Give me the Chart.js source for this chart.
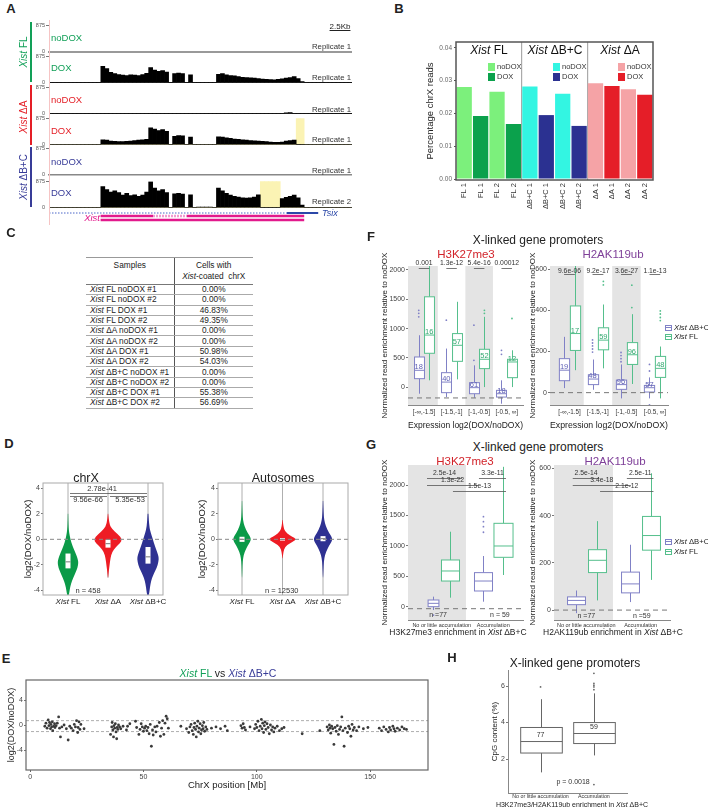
<!DOCTYPE html>
<html>
<head>
<meta charset="utf-8">
<script src="https://cdn.jsdelivr.net/npm/chart.js@4.4.1/dist/chart.umd.min.js"></script>
<style>
  html, body { margin: 0; padding: 0; background: #fff; }
  #fig { position: relative; width: 708px; height: 808px; overflow: hidden;
         font-family: "Liberation Sans", Arial, Helvetica, sans-serif; color: #222; }
  #fig canvas { position: absolute; }
  .t { position: absolute; white-space: nowrap; line-height: 1; }
  #tblC { position: absolute; left: 86px; top: 257px; width: 167px; border-collapse: collapse;
          font-size: 8.3px; color: #222; table-layout: fixed; }
  #tblC th { font-weight: normal; height: 24px; vertical-align: top; padding: 2px 0 0; line-height: 11px;
             border-top: 1px solid #999; border-bottom: 1px solid #777; }
  #tblC td { height: 9.3px; line-height: 9px; padding: 0; border-bottom: 1px solid #aaa; }
  #tblC td:first-child { padding-left: 4px; }
  #tblC td + td, #tblC th + th { border-left: 1px solid #555; text-align: center; }
</style>
</head>
<body>
<div id="fig"></div>
<script>
const FONT = '"Liberation Sans", Arial, Helvetica, sans-serif';

// --- A. coverage tracks (bins of ~0.45 kb, values start at bin 13) ---
const binLabels = Array.from({ length: 76 }, (_, i) => i);
const covStart = 13;
const covFlDox = [540,470,340,300,270,250,240,260,250,240,270,310,500,420,380,400,350, 0, 300,320,300, 0, 260, 0,0,0,0,0,0,
  280,300,260,240,230,200,180,170,160,150,140,120,110,100,95,110,130,150,170,200,140,40];
const covDaNoDox = [0,0,0,0,0,0,0,0,0,0, 0,0,0,0,0,0,0,0,0,0, 0,0,0,0,0,0,0,0,0,0, 0,0,0,0,0,0,0,0,0,0, 0,0,0,0,0,0, 30,40,0,0,0];
const covDaDox = [160,150,120,110,100,100,110,120,140,150,160,180,560,520,470,500,440, 0, 280,300,290, 0, 250, 0,0,0,0,0,0,
  260,250,230,210,190,180,160,150,140,130,120,110,100,90,80,80,90,120,140,150,0,0];
const covBcDox = [700,600,520,560,500,420,480,400,430,380,420,520,860,650,560,600,500, 0, 460,480,450, 0, 430, 0,20,20,20,20,0,
  650,560,480,420,380,350,330,320,330,350,430,0,0,0,0,0,300,340,380,420,330,90];
const hlDaDox = [62, 63];
const hlBcDox = [53, 54, 55, 56, 57];
const trackMax = 875;
const trackCondition = ['noDOX', 'DOX', 'noDOX', 'DOX', 'noDOX', 'DOX'];
const trackReplicate = ['Replicate 1', 'Replicate 1', 'Replicate 1', 'Replicate 1', 'Replicate 1', 'Replicate 2'];
// gene models, in bin units
const tsixDotted = [0, 59.5];
const tsixSolid = [59.5, 67.3];
const xistRow1 = [[12.9, 26, 'solid'], [26, 34.5, 'light'], [34.5, 63.8, 'solid']];
const xistRow2 = [12.9, 63.8];

// --- B. percentage chrX reads ---
const bLabels = ['FL 1','FL 1','FL 2','FL 2','ΔB+C 1','ΔB+C 1','ΔB+C 2','ΔB+C 2','ΔA 1','ΔA 1','ΔA 2','ΔA 2'];
const bValues = [0.0281,0.0192,0.0266,0.0168,0.0282,0.0195,0.0260,0.0162,0.0292,0.0284,0.0274,0.0257];
const bTicks = [0, 0.01, 0.02, 0.03, 0.04];
const bFacets = ['FL', 'ΔB+C', 'ΔA'];

// --- C. table ---
const tableSamples = ['FL noDOX #1','FL noDOX #2','FL DOX #1','FL DOX #2','ΔA noDOX #1','ΔA noDOX #2','ΔA DOX #1','ΔA DOX #2',
  'ΔB+C noDOX #1','ΔB+C noDOX #2','ΔB+C DOX #1','ΔB+C DOX #2'];
const tableCells = ['0.00%','0.00%','46.83%','49.35%','0.00%','0.00%','50.98%','54.03%','0.00%','0.00%','55.38%','56.69%'];

// --- D. violins: density outline (level, half width) + box [q1, median, q3] ---
const dGroups = ['FL', 'ΔA', 'ΔB+C'];
const dTicks = [-4, -2, 0, 2, 4];
const vChrXFlY = [2, 1, 0.5, 0, -0.5, -1, -1.5, -1.8, -2.2, -2.6, -3, -3.5, -4, -4.4];
const vChrXFlW = [0.005,0.012,0.03,0.06,0.11,0.18,0.24,0.26,0.24,0.19,0.13,0.07,0.04,0.02];
const vChrXDaY = [2, 1.2, 0.8, 0.4, 0, -0.3, -0.6, -1, -1.5, -2, -2.5, -3];
const vChrXDaW = [0.005,0.03,0.1,0.25,0.36,0.3,0.2,0.1,0.06,0.04,0.02,0.005];
const vChrXBcY = [2, 1, 0.5, 0, -0.5, -1, -1.4, -1.8, -2.2, -2.6, -3, -3.5, -4, -4.4];
const vChrXBcW = [0.01,0.03,0.07,0.12,0.17,0.23,0.27,0.26,0.22,0.16,0.1,0.06,0.04,0.02];
const vAutoY = [3, 2, 1.5, 1, 0.5, 0.2, 0, -0.2, -0.5, -1, -1.5, -2, -3];
const vAutoFlW = [0.004,0.012,0.025,0.06,0.14,0.2,0.22,0.2,0.14,0.06,0.025,0.012,0.004];
const vAutoDaY = [1.5, 1, 0.6, 0.3, 0.1, 0, -0.1, -0.3, -0.6, -1, -1.5];
const vAutoDaW = [0.005,0.02,0.06,0.18,0.3,0.33,0.3,0.18,0.06,0.02,0.005];
const vAutoBcW = [0.005,0.015,0.03,0.07,0.15,0.21,0.23,0.21,0.15,0.07,0.03,0.015,0.005];
const chrXBoxes = [[-2.27, -1.76, -1.11], [-0.65, -0.34, -0.03], [-1.9, -1.37, -0.6]];
const autoBoxes = [[-0.2, 0, 0.2], [-0.1, 0, 0.1], [-0.15, 0.05, 0.25]];
const chrXTails = [[-4.4, 4.4], [-3, 4.4], [-4.4, 4.4]];
const autoTails = [[-4.4, 4.4], [-4.4, 4.4], [-4.4, 4.4]];
const chrXSigText = ['2.78e-41', '9.56e-66', '5.35e-53'];
const chrXSigX1 = [1.05, 1.05, 2.05];
const chrXSigX2 = [2.975, 1.975, 2.975];
const chrXSigY = [3.64, 3.41, 3.41];
const chrXSigTextX = [1.85, 1.5, 2.55];
const chrXSigTextY = [3.95, 3.1, 3.1];

// --- E. log2 ratio along chrX: [position Mb, log2(DOX/noDOX)] ---
const ePoints = [
  [6.5,-0.2],[7,0.3],[7.5,-0.5],[8,0.8],[8.3,-0.1],[8.6,0.4],[9,-0.6],[9.2,0.1],[9.5,-0.3],[9.8,0.5],[10,-0.9],[10.4,-0.2],
  [10.8,0.2],[11,-0.4],[11.5,-0.1],[12,0.3],[12.6,1.3],[13,-0.5],[13.4,-1.9],[14,-0.3],[15,0],[16,-0.6],[16.8,-2.4],[17.5,-0.2],
  [18.2,-0.5],[19,-0.9],[19.5,0.1],[20,-0.3],[20.5,0.7],[21,-1.2],[21.2,-0.4],[21.6,0.5],[22,-0.7],[22.4,0.1],[23.8,-0.6],
  [35.5,-1.5],[36,-0.3],[36.2,0.4],[36.5,-0.8],[36.8,-1.9],[37,-0.1],[37.3,-0.5],[37.6,0.2],[37.9,-1.1],[38.2,-2.2],[38.4,-0.4],
  [38.7,-0.7],[39,0],[39.5,-0.3],[40,-0.6],[41,-0.2],[42.5,-0.8],[43,-0.2],
  [44,0.2],[46.5,0.6],[47,-0.4],[48,-1.5],[48.5,-0.7],[49,0.2],[49.5,-0.3],[50,-1],[50.5,-0.5],[51,-0.2],[51.5,-0.9],[52,-0.4],
  [52.5,-1.4],[53,0.1],[53.5,-3.4],[54,-0.8],[54.3,-1.6],[55,-0.3],[55.5,-1.1],[56,-0.2],[57,0.4],[57.5,-1.8],[58,-0.5],[58.5,0.7],
  [59,-1.5],[59.5,0.3],[60,1.4],[60.5,1.0],[61,-0.5],
  [66.5,-0.2],[69,-0.6],[70,-1.2],[70.5,-0.3],[71,0.1],[71.5,-0.9],[72,-1.5],[72.3,-0.4],[72.6,0.3],[73,-0.7],[73.3,-1.9],[73.6,-0.2],
  [74,0.6],[74.3,-1.1],[74.6,-0.5],[75,0.2],[75.3,-1.4],[75.6,-0.8],[76,-0.1],[76.3,-0.6],[76.6,0.4],[77,-1],[77.5,-0.3],[78,-0.7],
  [80,-0.5],[82,-0.3],[84,-0.6],[86,-0.2],[87,-0.9],
  [93,-0.1],[93.5,-0.5],[94,0.2],[94.5,-0.4],[95,-0.8],[97,-0.3],[99,-0.6],[99.5,0.1],[100,-0.4],[100.5,0.6],[101,-0.9],[101.5,-0.2],
  [102,0.9],[102.3,-0.6],[102.6,0.3],[103,-1.2],[103.3,-0.1],[103.6,0.5],[104,-0.7],[104.5,0.2],[105,-0.4],[105.5,-1.4],[106,0],
  [106.5,-0.8],[107,-0.3],[107.5,-1.1],[108,-0.5],[109,-0.2],[110,-0.9],[111,-0.6],[112,-0.4],
  [120,-1.4],[127.8,-0.9],
  [131,-0.3],[131.5,-0.8],[132,0],[132.3,-0.5],[132.6,-1.3],[133,-0.2],[133.5,-0.6],[134,-3.1],[134.5,-0.4],[135,-1.0],[135.5,-0.1],
  [136,-1.5],[136.5,-0.7],[137,-0.3],[137.5,1.3],[138,-0.9],[138.5,-3.4],[139,-0.5],[140,-1.2],[140.5,-0.2],[141,-0.6],[141.5,-1.8],
  [142,0.1],[142.5,-0.8],[143,-0.4],[144,-0.9],[145,-0.3],[147,-0.6],[149,-0.4],
  [154,-0.5],[155,-0.9],[156,-0.3],[157,-0.7],[158,-1.1],[158.5,-0.4],[159,-0.8],[160,-0.2],[160.5,-0.6],[161,-1.0],[162,-0.5],
  [163,-0.8],[164,-0.3],[165,-0.6],[166,-0.7]
];
const eRefLines = [0.7, -1.05];
const eXTicks = [0, 50, 100, 150];
const eYTicks = [-4, 0, 4];

// --- F. boxes by expression bin: [low whisker, q1, median, q3, high whisker] ---
const fBins = ['[-∞,-1.5]', '[-1.5,-1]', '[-1,-0.5]', '[-0.5, ∞]'];
const fK27Bc = [[-108,148,290,517,887],[-165,-90,90,250,660],[-176,-108,-5,80,375],[-278,-165,-108,-51,120]];
const fK27Fl = [[120,580,890,1541,2200],[136,443,716,915,1456],[5,319,478,648,1200],[5,165,432,478,631]];
const fK27BcOut = [[1310,1260,1200],[1143],[1058,460],[631,563]];
const fK27FlOut = [[],[],[1310,1260],[1172]];
const fK27BcN = ['18','40','61','18'];
const fK27FlN = ['16','57','52','12'];
const fK27P = ['0.001','1.3e-12','5.4e-16','0.00012'];
const fK27Ref = -180;
const fK119Bc = [[22,58,109,165,271],[14,39,66,87,161],[-28,16,39,61,137],[-28,3,24,35,74]];
const fK119Fl = [[109,205,287,421,640],[118,208,255,315,428],[42,137,184,243,381],[-28,74,118,176,224]];
const fK119BcOut = [[],[197,212,227,241,256],[150,165,180,195],[137,105,-60]];
const fK119FlOut = [[],[523,540],[522,413],[350,365,382,397]];
const fK119BcN = ['19','48','96','57'];
const fK119FlN = ['17','59','96','48'];
const fK119P = ['9.6e-06','9.2e-17','3.6e-27','1.1e-13'];
const fK119Ref = 0;

// --- G. boxes by accumulation class (order: ΔB+C no/little, FL no/little, ΔB+C acc, FL acc) ---
const gClasses = ['No or little accumulation', 'Accumulation'];
const gK27Stats = [[-55,0,55,110,165],[148,422,587,768,1233],[82,258,422,560,833],[521,812,998,1371,2300]];
const gK27Out = [[-138],[],[1480,1398,1316,1224],[]];
const gK27Pos = [0.84, 1.16, 1.81, 2.18];
const gK27Width = [0.21, 0.35, 0.35, 0.37];
const gK27SigText = ['2.5e-14','3.3e-11','1.3e-22','1.5e-13'];
const gK27SigX1 = [0.714, 1.723, 0.714, 1.218];
const gK27SigX2 = [1.393, 2.248, 1.704, 2.248];
const gK27SigY = [2117, 2117, 2002, 1903];
const gK27N = ['n =77', 'n = 59'];
const gK27NX = [0.93, 2.13];
const gK27NY = -138;
const gK27Ref = -33;
const gK119Stats = [[-13,23,41,56,83],[41,159,211,256,377],[34,73,111,161,277],[128,254,316,397,580]];
const gK119Pos = [0.81, 1.19, 1.81, 2.19];
const gK119Width = [0.33, 0.33, 0.33, 0.33];
const gK119SigText = ['2.5e-14','2.5e-11','3.4e-18','2.1e-12'];
const gK119SigX1 = [0.75, 1.746, 0.75, 1.253];
const gK119SigX2 = [1.24, 2.236, 1.82, 2.236];
const gK119SigY = [560, 560, 530, 504];
const gK119N = ['n =77', 'n =59'];
const gK119NX = [1.0, 2.02];
const gK119NY = -27;
const gK119Ref = 0;

// --- H. CpG content ---
const hStats = [[1.27,2.33,2.96,3.73,5.28],[2.2,2.85,3.4,4.0,5.6]];
const hOut = [[5.95],[5.8,5.95,6.05,6.15,6.7,0.6]];
const hN = ['77', '59'];
const hP = 'p = 0.0018';

// ------------------------------------------------------------------
Chart.defaults.font.family = FONT;
Chart.defaults.font.size = 7;
Chart.defaults.color = '#444';
Chart.defaults.animation = false;
Chart.defaults.events = [];
Chart.defaults.plugins.legend.display = false;
Chart.defaults.plugins.tooltip.enabled = false;

const GREEN = '#12a058', RED = '#e41e26', NAVY = '#383c98';
const BC = '#8081c6', FL = '#55bf8c';
const fig = document.getElementById('fig');

function canvasAt(plot, axL, axB, padT, padR) {
  const c = document.createElement('canvas');
  const w = axL + plot[2] - plot[0] + padR, h = padT + plot[3] - plot[1] + axB;
  c.width = w; c.height = h;
  c.style.left = (plot[0] - axL) + 'px';
  c.style.top = (plot[1] - padT) + 'px';
  c.style.width = w + 'px'; c.style.height = h + 'px';
  fig.appendChild(c);
  return c;
}

function base(padT, padR) {
  return { responsive: false, maintainAspectRatio: false, animation: false,
    layout: { padding: { top: padT, right: padR, left: 0, bottom: 0 } } };
}

function txt(html, x, y, o = {}) {
  const d = document.createElement('div');
  d.className = 't';
  d.innerHTML = html;
  d.style.left = x + 'px';
  d.style.top = y + 'px';
  d.style.fontSize = (o.size || 9) + 'px';
  if (o.color) d.style.color = o.color;
  if (o.bold) d.style.fontWeight = 'bold';
  const ax = o.anchor === 'l' ? '0' : o.anchor === 'r' ? '-100%' : '-50%';
  d.style.transform = `translate(${ax},-50%)` + (o.rot ? ` rotate(${o.rot}deg)` : '');
  if (o.css) d.style.cssText += o.css;
  fig.appendChild(d);
  return d;
}

function richText(ctx, parts, x, y, size, color) {
  const fonts = parts.map(p => (p.i ? 'italic ' : '') + size + 'px ' + FONT);
  const ws = parts.map((p, k) => { ctx.font = fonts[k]; return ctx.measureText(p.t).width; });
  let cx = x - ws.reduce((a, b) => a + b, 0) / 2;
  ctx.textAlign = 'left'; ctx.textBaseline = 'middle';
  parts.forEach((p, k) => { ctx.font = fonts[k]; ctx.fillStyle = color; ctx.fillText(p.t, cx, y); cx += ws[k]; });
}

const frame = (color, w) => ({ id: 'frame', afterDatasetsDraw(chart) {
  const { ctx, chartArea: a } = chart;
  ctx.save(); ctx.strokeStyle = color; ctx.lineWidth = w;
  ctx.strokeRect(a.left, a.top, a.right - a.left, a.bottom - a.top);
  ctx.restore();
}});

function annot(cfg) {
  return { id: 'annot', afterDraw(chart) {
    const { ctx, scales: { x, y } } = chart;
    ctx.save();
    (cfg.lines || []).forEach(l => {
      ctx.strokeStyle = l.color || '#444'; ctx.lineWidth = 0.8;
      const py = Math.round(y.getPixelForValue(l.y)) + 0.5;
      ctx.beginPath(); ctx.moveTo(x.getPixelForValue(l.x1), py); ctx.lineTo(x.getPixelForValue(l.x2), py); ctx.stroke();
    });
    (cfg.texts || []).forEach(t => {
      ctx.font = `${t.size || 7}px ${FONT}`; ctx.fillStyle = t.color || '#333';
      ctx.textAlign = 'center'; ctx.textBaseline = 'middle';
      ctx.fillText(t.t, x.getPixelForValue(t.x), y.getPixelForValue(t.y));
    });
    ctx.restore();
  }};
}

function statBoxes(cfg) {
  return { id: 'statBoxes',
    beforeDatasetsDraw(chart) {
      const { ctx, chartArea: a, scales: { x, y } } = chart;
      ctx.save();
      ctx.beginPath(); ctx.rect(a.left, a.top, a.right - a.left, a.bottom - a.top); ctx.clip();
      (cfg.bands || []).forEach(b => {
        const l = Math.max(a.left, x.getPixelForValue(b[0])), r = Math.min(a.right, x.getPixelForValue(b[1]));
        ctx.fillStyle = '#e4e4e4'; ctx.fillRect(l, a.top, r - l, a.bottom - a.top);
      });
      cfg.boxes.forEach(bx => {
        const cx = Math.round(x.getPixelForValue(bx.x)) + 0.5;
        const hw = (x.getPixelForValue(bx.x + bx.w / 2) - x.getPixelForValue(bx.x - bx.w / 2)) / 2;
        const [lo, q1, md, q3, hi] = bx.s.map(v => y.getPixelForValue(v));
        ctx.strokeStyle = bx.color; ctx.lineWidth = 1;
        ctx.beginPath(); ctx.moveTo(cx, hi); ctx.lineTo(cx, q3); ctx.moveTo(cx, q1); ctx.lineTo(cx, lo); ctx.stroke();
        ctx.fillStyle = '#fff'; ctx.fillRect(cx - hw, q3, 2 * hw, q1 - q3);
        ctx.strokeRect(cx - hw, q3, 2 * hw, q1 - q3);
        ctx.beginPath(); ctx.moveTo(cx - hw, md); ctx.lineTo(cx + hw, md); ctx.stroke();
      });
      ctx.restore();
    },
    afterDatasetsDraw(chart) {
      const { ctx, scales: { x, y } } = chart;
      ctx.save();
      cfg.boxes.forEach(bx => {
        if (!bx.label) return;
        ctx.font = `${cfg.labelSize || 7.5}px ${FONT}`; ctx.fillStyle = bx.labelColor || bx.color;
        ctx.textAlign = 'center'; ctx.textBaseline = 'middle';
        ctx.fillText(bx.label, x.getPixelForValue(bx.x), y.getPixelForValue(bx.s[2]) - (cfg.labelLift || 4));
      });
      ctx.restore();
    }
  };
}

function xGroupAxis(axB, ticksAt, labels, size, title, pad) {
  return { type: 'linear', afterFit: s => { s.height = axB; },
    afterBuildTicks: s => { s.ticks = ticksAt.map(v => ({ value: v })); },
    grid: { display: true, drawOnChartArea: false, drawTicks: false },
    border: { display: true, color: '#888' },
    ticks: { autoSkip: false, maxRotation: 0, font: { size }, color: '#333', padding: pad === undefined ? 3 : pad,
             callback: (v, i) => labels[i] },
    title: title ? { display: true, text: title, font: { size: 8.8 }, color: '#222', padding: { top: 0, bottom: 1 } } : { display: false } };
}

function yValueAxis(axL, ticksAt, title, titlePad, size) {
  return { type: 'linear', afterFit: s => { s.width = axL; },
    afterBuildTicks: s => { s.ticks = ticksAt.map(v => ({ value: v })); },
    grid: { display: true, drawOnChartArea: false, drawTicks: true, tickLength: 2, color: '#777' },
    border: { display: true, color: '#888' },
    ticks: { font: { size: 7 }, color: '#444', padding: 1, callback: v => String(v) },
    title: { display: true, text: title, font: { size: size || 8 }, color: '#222', padding: { top: titlePad, bottom: 0 } } };
}

// ---------------- Panel A ----------------
const trackCov = [[], covFlDox, covDaNoDox, covDaDox, [], covBcDox];
const trackHl = [[], [], [], hlDaDox, [], hlBcDox];
const trackTop = [25, 56, 87, 118, 148, 181];
const trackBase = [52, 83, 114, 145, 175, 208];
const trackColor = [GREEN, GREEN, RED, RED, NAVY, NAVY];
const trackLine = ['#999', '#333', '#333', '#333', '#888', '#333'];
const trackLineW = [2, 1, 1, 1, 1.5, 1];
trackCov.forEach((cov, k) => {
  const cv = canvasAt([49, trackTop[k], 352, trackBase[k]], 21, 4, 4, 0);
  const datasets = [];
  if (trackHl[k].length) datasets.push({ data: binLabels.map(i => trackHl[k].includes(i) ? trackMax : 0),
    backgroundColor: '#fbf3b4', grouped: false, order: 2, barPercentage: 1, categoryPercentage: 1 });
  if (cov.length) datasets.push({ data: binLabels.map(i => (i >= covStart && i < covStart + cov.length) ? cov[i - covStart] : 0),
    backgroundColor: '#000', grouped: false, order: 1, barPercentage: 1, categoryPercentage: 1 });
  new Chart(cv, { type: 'bar', data: { labels: binLabels, datasets },
    options: Object.assign(base(4, 0), { scales: {
      x: { afterFit: s => { s.height = 4; }, grid: { display: false }, ticks: { display: false },
           border: { display: true, color: trackLine[k], width: trackLineW[k] } },
      y: { min: 0, max: trackMax, afterFit: s => { s.width = 21; },
           afterBuildTicks: s => { s.ticks = [{ value: 0 }, { value: trackMax }]; },
           grid: { display: true, drawOnChartArea: false, drawTicks: true, tickLength: 3,
                   color: c => (c.tick && c.tick.value === trackMax) ? '#777' : 'rgba(0,0,0,0)' },
           border: { display: false }, ticks: { font: { size: 5.5 }, color: '#555', padding: 1 } } } }) });
  txt(trackCondition[k], 51, [38, 68, 100, 131, 162, 193][k], { anchor: 'l', size: 9.5, color: trackColor[k] });
  txt(trackReplicate[k], 351, [47, 78, 110, 140, 171, 202][k], { anchor: 'r', size: 7.8, color: '#333' });
});

// gene models
(function () {
  const cv = canvasAt([49, 209, 352, 223], 0, 0, 0, 0);
  const seg = (span, y, color, w, dash) => ({ type: 'line', data: [{ x: span[0], y }, { x: span[1], y }],
    borderColor: color, borderWidth: w, borderDash: dash || [], pointRadius: 0 });
  const datasets = [seg(tsixDotted, 4, '#4a66c8', 1, [1.5, 1.5]), seg(tsixSolid, 4, '#2b48a8', 2)];
  xistRow1.forEach(r => datasets.push(seg([r[0], r[1]], 7, r[2] === 'solid' ? '#e2198c' : '#f29bcf', 2.4, r[2] === 'solid' ? [] : [2, 1])));
  datasets.push(seg(xistRow2, 11, '#e2198c', 2.4));
  new Chart(cv, { type: 'scatter', data: { datasets },
    options: Object.assign(base(0, 0), { scales: {
      x: { type: 'linear', min: 0, max: 75.75, display: false },
      y: { min: 0, max: 14, reverse: true, display: false } } }) });
})();

txt('A', 11, 8, { size: 13, bold: true });
txt('2.5Kb', 340, 27, { size: 8, css: 'text-decoration: underline;' });
[[22, 82, GREEN, '<i>Xist</i> FL', 52], [85, 145, RED, '<i>Xist</i> ΔA', 117], [147, 207, NAVY, '<i>Xist</i> ΔB+C', 177]].forEach(b => {
  const d = document.createElement('div');
  d.style.cssText = `position:absolute;left:30px;top:${b[0]}px;width:2px;height:${b[1] - b[0]}px;background:${b[2]};`;
  fig.appendChild(d);
  txt(b[3], 24, b[4], { size: 10, color: b[2], rot: -90 });
});
(function () {
  const d = document.createElement('div');
  d.style.cssText = 'position:absolute;left:49px;top:20px;width:1px;height:205px;background:#f6c4c4;';
  fig.appendChild(d);
})();
txt('Tsix', 322, 213, { anchor: 'l', size: 9, color: '#2b48a8', css: 'font-style:italic;' });
txt('Xist', 100, 218, { anchor: 'r', size: 9.5, color: '#e2198c', css: 'font-style:italic;' });

// ---------------- Panel B ----------------
(function () {
  const bColors = ['#7cf07c','#0ba14c','#7cf07c','#0ba14c','#33f5e2','#2b3191','#33f5e2','#2b3191','#f5a3a6','#e51e28','#f5a3a6','#e51e28'];
  const cv = canvasAt([456, 42, 653, 180], 36, 30, 6, 8);
  new Chart(cv, { type: 'bar',
    data: { labels: bLabels, datasets: [{ data: bValues, backgroundColor: bColors, barPercentage: 0.93, categoryPercentage: 1, borderWidth: 0 }] },
    options: Object.assign(base(6, 8), { scales: {
      x: { afterFit: s => { s.height = 30; },
           grid: { offset: true, drawTicks: false, lineWidth: 1.2, color: c => (c.index === 4 || c.index === 8) ? '#aaa' : 'rgba(0,0,0,0)' },
           border: { display: false },
           ticks: { minRotation: 90, maxRotation: 90, autoSkip: false, font: { size: 7.5 }, color: '#333', padding: 3 } },
      y: { min: -0.0003, max: 0.0418, afterFit: s => { s.width = 36; },
           afterBuildTicks: s => { s.ticks = bTicks.map(v => ({ value: v })); },
           grid: { drawOnChartArea: false, drawTicks: true, tickLength: 2, color: '#555' }, border: { display: false },
           ticks: { callback: v => v.toFixed(2), font: { size: 6.5 }, color: '#666', padding: 2 },
           title: { display: true, text: 'Percentage chrX reads', font: { size: 9.5 }, color: '#222', padding: { top: 5, bottom: 0 } } } } }),
    plugins: [frame('#555', 1.5)] });
  txt('B', 399, 8, { size: 13, bold: true });
  const facetX = [489, 555, 620], legX = [488, 553, 618];
  bFacets.forEach((f, i) => {
    txt('<i>Xist</i> ' + f, facetX[i], 50, { size: 12, color: '#111' });
    [[bColors[i * 4], 'noDOX', 67], [bColors[i * 4 + 1], 'DOX', 77]].forEach(l => {
      const d = document.createElement('div');
      d.style.cssText = `position:absolute;left:${legX[i]}px;top:${l[2] - 4}px;width:7px;height:8px;background:${l[0]};`;
      fig.appendChild(d);
      txt(l[1], legX[i] + 9, l[2], { anchor: 'l', size: 7.5, color: '#333' });
    });
  });
})();

// ---------------- Panel C ----------------
(function () {
  let h = '<table id="tblC"><colgroup><col style="width:88px"><col style="width:79px"></colgroup>';
  h += '<thead><tr><th>Samples</th><th>Cells with<br><i>Xist</i>-coated&nbsp; chrX</th></tr></thead><tbody>';
  tableSamples.forEach((s, i) => { h += `<tr><td><i>Xist</i> ${s}</td><td>${tableCells[i]}</td></tr>`; });
  h += '</tbody></table>';
  fig.insertAdjacentHTML('beforeend', h);
  txt('C', 11, 232, { size: 13, bold: true });
})();

// ---------------- Panel D ----------------
function violinPlugin(groups) {
  return { id: 'violins', beforeDatasetsDraw(chart) {
    const { ctx, chartArea: a, scales: { x, y } } = chart;
    ctx.save();
    ctx.beginPath(); ctx.rect(a.left, a.top, a.right - a.left, a.bottom - a.top); ctx.clip();
    groups.forEach(g => {
      const cx = x.getPixelForValue(g.x);
      ctx.strokeStyle = '#9a9a9a'; ctx.lineWidth = 0.8;
      ctx.beginPath(); ctx.moveTo(cx, y.getPixelForValue(g.tail[1])); ctx.lineTo(cx, y.getPixelForValue(g.tail[0])); ctx.stroke();
      const pts = [];
      g.levels.forEach((lv, i) => pts.push([x.getPixelForValue(g.x + g.w[i]), y.getPixelForValue(lv)]));
      for (let i = g.levels.length - 1; i >= 0; i--) pts.push([x.getPixelForValue(g.x - g.w[i]), y.getPixelForValue(g.levels[i])]);
      ctx.fillStyle = g.color;
      ctx.beginPath(); ctx.moveTo(pts[0][0], pts[0][1]);
      for (let i = 1; i < pts.length - 1; i++) {
        const mx = (pts[i][0] + pts[i + 1][0]) / 2, my = (pts[i][1] + pts[i + 1][1]) / 2;
        ctx.quadraticCurveTo(pts[i][0], pts[i][1], mx, my);
      }
      ctx.lineTo(pts[pts.length - 1][0], pts[pts.length - 1][1]);
      ctx.closePath(); ctx.fill();
      const [q1, md, q3] = g.box.map(b => y.getPixelForValue(b));
      ctx.fillStyle = '#fff'; ctx.fillRect(cx - 2.5, q3, 5, q1 - q3);
      ctx.strokeStyle = '#777'; ctx.lineWidth = 1;
      ctx.beginPath(); ctx.moveTo(cx - 2.5, md); ctx.lineTo(cx + 2.5, md); ctx.stroke();
    });
    ctx.restore();
  },
  afterDraw(chart) {
    const { ctx, chartArea: a, scales: { x } } = chart;
    ctx.save();
    dGroups.forEach((gname, i) => richText(ctx, [{ t: 'Xist', i: true }, { t: ' ' + gname }], x.getPixelForValue(i + 1), a.bottom + 7, 8, '#222'));
    ctx.restore();
  }};
}

function violinChart(plot, xr, groups, ann, titlePad) {
  const cv = canvasAt(plot, 21, 14, 6, 6);
  new Chart(cv, { type: 'scatter',
    data: { datasets: [{ type: 'line', data: [{ x: xr[0], y: 0 }, { x: xr[1], y: 0 }], borderColor: '#888', borderWidth: 1, borderDash: [4, 3], pointRadius: 0 }] },
    options: Object.assign(base(6, 6), { scales: {
      x: { type: 'linear', min: xr[0], max: xr[1], afterFit: s => { s.height = 14; },
           grid: { display: false }, ticks: { display: false }, border: { display: false } },
      y: Object.assign(yValueAxis(21, dTicks, 'log2(DOX/noDOX)', titlePad, 9.5), { min: -4.35, max: 4.4, border: { display: false } }) } }),
    plugins: [violinPlugin(groups), frame('#aaa', 1), annot(ann)] });
}

const dColors = ['#0b9a48', '#ee1c24', '#2e3192'];
violinChart([43, 483, 163, 595], [0.375, 3.375], [
  { x: 1, levels: vChrXFlY, w: vChrXFlW, box: chrXBoxes[0], tail: chrXTails[0], color: dColors[0] },
  { x: 2, levels: vChrXDaY, w: vChrXDaW, box: chrXBoxes[1], tail: chrXTails[1], color: dColors[1] },
  { x: 3, levels: vChrXBcY, w: vChrXBcW, box: chrXBoxes[2], tail: chrXTails[2], color: dColors[2] }],
  { lines: chrXSigText.map((t, i) => ({ x1: chrXSigX1[i], x2: chrXSigX2[i], y: chrXSigY[i], color: '#555' })),
    texts: chrXSigText.map((t, i) => ({ t, x: chrXSigTextX[i], y: chrXSigTextY[i], size: 7.5, color: '#333' }))
      .concat([{ t: 'n = 458', x: 1.5, y: -4.03, size: 7.5, color: '#333' }]) }, 1);
violinChart([218, 483, 348, 595], [0.407, 3.617], [
  { x: 1, levels: vAutoY, w: vAutoFlW, box: autoBoxes[0], tail: autoTails[0], color: dColors[0] },
  { x: 2, levels: vAutoDaY, w: vAutoDaW, box: autoBoxes[1], tail: autoTails[1], color: dColors[1] },
  { x: 3, levels: vAutoY, w: vAutoBcW, box: autoBoxes[2], tail: autoTails[2], color: dColors[2] }],
  { texts: [{ t: 'n = 12530', x: 1.98, y: -4.03, size: 7.5, color: '#333' }] }, 0);
txt('D', 9, 443, { size: 13, bold: true });
txt('chrX', 86, 478, { size: 12.5 });
txt('Autosomes', 283, 478, { size: 12.5 });

// ---------------- Panel E ----------------
(function () {
  const cv = canvasAt([26, 680, 428, 770], 24, 22, 6, 8);
  const datasets = [{ data: ePoints.map(p => ({ x: p[0], y: p[1] })), pointRadius: 1.4, pointBackgroundColor: '#3a3a3a', pointBorderWidth: 0 }];
  eRefLines.forEach(v => datasets.push({ type: 'line', data: [{ x: -1.8, y: v }, { x: 175.5, y: v }], borderColor: '#999', borderWidth: 0.8, borderDash: [3, 2], pointRadius: 0 }));
  new Chart(cv, { type: 'scatter', data: { datasets },
    options: Object.assign(base(6, 8), { scales: {
      x: { type: 'linear', min: -1.8, max: 175.5, afterFit: s => { s.height = 22; },
           afterBuildTicks: s => { s.ticks = eXTicks.map(v => ({ value: v })); },
           grid: { display: true, drawOnChartArea: false, drawTicks: true, tickLength: 2, color: '#666' }, border: { display: false },
           ticks: { font: { size: 7 }, color: '#444', padding: 1 },
           title: { display: true, text: 'ChrX position [Mb]', font: { size: 9.5 }, color: '#222', padding: { top: 0, bottom: 1 } } },
      y: Object.assign(yValueAxis(24, eYTicks, 'log2(DOX/noDOX)', 4, 9), { min: -7.2, max: 7.2, border: { display: false } }) } }),
    plugins: [frame('#666', 1.2)] });
  txt('E', 6, 658, { size: 13, bold: true });
  txt(`<span style="color:${GREEN}"><i>Xist</i> FL</span> vs <span style="color:${NAVY}"><i>Xist</i> ΔB+C</span>`, 228, 673, { size: 10.5 });
})();

// ---------------- Panels F, G, H ----------------
function boxChart(o) {
  const cv = canvasAt(o.plot, o.axL, o.axB, o.padT, o.padR);
  const boxes = [], outPts = [], outCol = [];
  o.pos.forEach((p, i) => {
    boxes.push({ x: p, w: o.widths[i], s: o.stats[i], color: o.colors[i], label: o.counts ? o.counts[i] : null, labelColor: o.labelColors ? o.labelColors[i] : null });
    (o.outliers[i] || []).forEach(v => { outPts.push({ x: p, y: v }); outCol.push(o.colors[i]); });
  });
  const datasets = [{ data: outPts, pointRadius: 0.9, pointBackgroundColor: outCol, pointBorderWidth: 0 }];
  if (o.ref !== undefined) datasets.push({ type: 'line', data: [{ x: o.xr[0], y: o.ref }, { x: o.xr[1], y: o.ref }],
    borderColor: '#777', borderWidth: 1, borderDash: [5, 4], pointRadius: 0 });
  const xAxis = Object.assign(xGroupAxis(o.axB, o.ticksAt, o.tickLabels, o.tickSize, o.xTitle, o.tickPad), { min: o.xr[0], max: o.xr[1] });
  const yAxis = Object.assign(yValueAxis(o.axL, o.yTicks, o.yTitle, o.yTitlePad, o.yTitleSize), { min: o.yr[0], max: o.yr[1] });
  new Chart(cv, { type: 'scatter', data: { datasets },
    options: Object.assign(base(o.padT, o.padR), { scales: { x: xAxis, y: yAxis } }),
    plugins: [statBoxes({ bands: o.bands, boxes, labelSize: o.labelSize, labelLift: o.labelLift }), annot(o.ann || {})] });
}

const yTitleNorm = 'Normalized read enrichment relative to noDOX';
function fChart(plot, axL, xr, yr, yTicks, bc, fl, bcOut, flOut, bcN, flN, pv, pvLine, pvText, ref, titlePad) {
  const pos = [], widths = [], stats = [], colors = [], outliers = [], counts = [];
  [1, 2, 3, 4].forEach((g, i) => {
    pos.push(g - 0.19, g + 0.19); widths.push(0.36, 0.36);
    stats.push(bc[i], fl[i]); colors.push(BC, FL); outliers.push(bcOut[i], flOut[i]); counts.push(bcN[i], flN[i]);
  });
  boxChart({ plot, axL, axB: 27, padT: 16, padR: 4, xr, yr, yTicks, pos, widths, stats, colors, outliers, counts,
    labelColors: colors.map(c => c === BC ? '#5e5fb4' : '#33a870'), labelSize: 7.5, labelLift: 3,
    bands: [[xr[0] - 1, 1.5], [2.5, 3.5]], ref, ticksAt: [1, 2, 3, 4], tickLabels: fBins, tickSize: 6.3,
    xTitle: 'Expression log2(DOX/noDOX)', yTitle: yTitleNorm, yTitlePad: titlePad, yTitleSize: 8,
    ann: { lines: pv.map((t, i) => ({ x1: i + 1 - 0.19, x2: i + 1 + 0.19, y: pvLine, color: '#555' })),
           texts: pv.map((t, i) => ({ t, x: i + 1, y: pvText, size: 6.8, color: '#333' })) } });
}
fChart([408, 266, 523, 405], 32, [0.42, 4.59], [-300, 2065], [0, 500, 1000, 1500, 2000],
  fK27Bc, fK27Fl, fK27BcOut, fK27FlOut, fK27BcN, fK27FlN, fK27P, 2039, 2116, fK27Ref, 4);
fChart([550, 266, 668, 405], 22, [0.316, 4.46], [-60, 615], [0, 200, 400, 600],
  fK119Bc, fK119Fl, fK119BcOut, fK119FlOut, fK119BcN, fK119FlN, fK119P, 574, 592, fK119Ref, 0);
txt('F', 371, 236, { size: 13, bold: true });
txt('X-linked gene promoters', 538, 240, { size: 12 });
txt('H3K27me3', 466, 255, { size: 11.5, color: '#d2232a' });
txt('H2AK119ub', 613, 255, { size: 11.5, color: '#7e3f98' });

function gChart(plot, axL, xr, yr, yTicks, stats, out, pos, widths, sigT, sx1, sx2, sy, textLift, nT, nX, nY, ref, band, titlePad) {
  const colors = [BC, FL, BC, FL];
  boxChart({ plot, axL, axB: 17, padT: 6, padR: 4, xr, yr, yTicks, pos, widths, stats, colors, outliers: out,
    bands: [[xr[0] - 1, band]], ref, ticksAt: [1, 2], tickLabels: gClasses, tickSize: 5.5, tickPad: 2,
    yTitle: yTitleNorm, yTitlePad: titlePad, yTitleSize: 8,
    ann: { lines: sigT.map((t, i) => ({ x1: sx1[i], x2: sx2[i], y: sy[i], color: '#555' })),
           texts: sigT.map((t, i) => ({ t, x: (sx1[i] + sx2[i]) / 2, y: sy[i] + textLift, size: 6.8, color: '#333' }))
             .concat(nT.map((t, i) => ({ t, x: nX[i], y: nY, size: 7, color: '#333' }))) } });
}
gChart([408, 465, 523, 620], 32, [0.345, 2.578], [-219, 2330], [0, 500, 1000, 1500, 2000], gK27Stats, gK27Out, gK27Pos, gK27Width,
  gK27SigText, gK27SigX1, gK27SigX2, gK27SigY, 78, gK27N, gK27NX, gK27NY, gK27Ref, 1.47, 4);
gChart([554, 465, 670, 620], 26, [0.405, 2.54], [-42, 615], [0, 200, 400, 600], gK119Stats, [[], [], [], []], gK119Pos, gK119Width,
  gK119SigText, gK119SigX1, gK119SigX2, gK119SigY, 21, gK119N, gK119NX, gK119NY, gK119Ref, 1.49, 0);
txt('G', 371, 444, { size: 13, bold: true });
txt('X-linked gene promoters', 538, 447, { size: 12 });
txt('H3K27me3', 465, 462, { size: 11.5, color: '#d2232a' });
txt('H2AK119ub', 615, 462, { size: 11.5, color: '#7e3f98' });
txt('H3K27me3 enrichment in <i>Xist</i> ΔB+C', 458, 632, { size: 8.5 });
txt('H2AK119ub enrichment in <i>Xist</i> ΔB+C', 613, 632, { size: 8.5 });

// legends for F and G
[[328, 337], [542, 552]].forEach(rows => {
  [[BC, '<i>Xist</i> ΔB+C', rows[0]], [FL, '<i>Xist</i> FL', rows[1]]].forEach(l => {
    const d = document.createElement('div');
    d.style.cssText = `position:absolute;left:665px;top:${l[2] - 3.5}px;width:7px;height:6px;border:1px solid ${l[0]};box-sizing:border-box;` +
      `background:linear-gradient(${l[0]},${l[0]}) center/100% 1px no-repeat;`;
    fig.appendChild(d);
    txt(l[1], 674, l[2], { anchor: 'l', size: 7.7, color: '#222' });
  });
});

// H
boxChart({ plot: [508, 670, 627, 793], axL: 22, axB: 16, padT: 6, padR: 6, xr: [0.39, 2.62], yr: [0.14, 6.88], yTicks: [2, 4, 6],
  pos: [1, 2], widths: [0.78, 0.78], stats: hStats, colors: ['#666', '#666'], outliers: hOut, counts: hN,
  labelColors: ['#333', '#333'], labelSize: 7, labelLift: 6,
  ticksAt: [1, 2], tickLabels: gClasses, tickSize: 5.3, tickPad: 0, yTitle: 'CpG content (%)', yTitlePad: 4, yTitleSize: 8,
  ann: { texts: [{ t: hP, x: 1.61, y: 0.74, size: 7, color: '#333' }] } });
txt('H', 452, 657, { size: 13, bold: true });
txt('X-linked gene promoters', 575, 663, { size: 12 });
txt('H3K27me3/H2AK119ub enrichment in <i>Xist</i> ΔB+C', 572, 804, { size: 7 });
</script>
</body>
</html>
